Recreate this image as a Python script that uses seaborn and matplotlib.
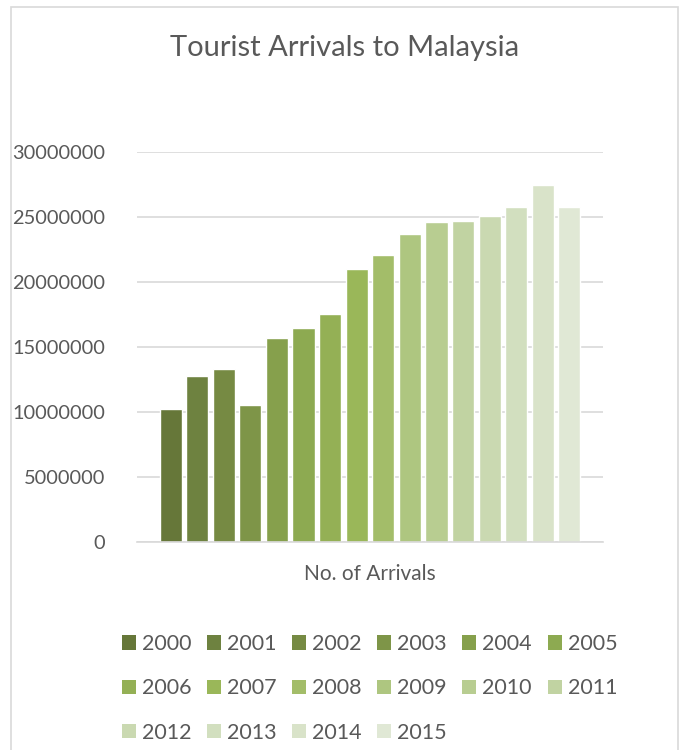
import matplotlib
matplotlib.use("Agg")
import matplotlib.pyplot as plt
import matplotlib.patches as mpatches
import seaborn as sns
import pandas as pd

years = ["2000", "2001", "2002", "2003", "2004", "2005", "2006", "2007",
         "2008", "2009", "2010", "2011", "2012", "2013", "2014", "2015"]
arrivals = [10220000, 12780000, 13290000, 10580000, 15700000, 16430000,
            17550000, 20970000, 22050000, 23650000, 24580000, 24710000,
            25030000, 25720000, 27440000, 25720000]
colors = ["#667739", "#6E8240", "#768A43", "#7E9548", "#86A04C", "#8DAA51",
          "#94B055", "#9AB759", "#A3BD69", "#AEC680", "#B8CD91", "#C1D3A2",
          "#CAD9B1", "#D2DFBF", "#D9E3C9", "#E0E8D5"]
category = "No. of Arrivals"
title = "Tourist Arrivals to Malaysia"
yticks = [0, 5000000, 10000000, 15000000, 20000000, 25000000, 30000000]

df = pd.DataFrame({"cat": [category] * len(years), "year": years, "value": arrivals})

sns.set_theme(style="white")
plt.rcParams["font.family"] = ["Lato", "DejaVu Sans"]
txt = "#595959"
grid = "#D9D9D9"

fig = plt.figure(figsize=(6.79, 7.5), dpi=100)
W, H = 679, 750
ax = fig.add_axes([137 / W, 1 - 542.3 / H, (603 - 137) / W, (542.3 - 151.7) / H])

sns.barplot(data=df, x="cat", y="value", hue="year", palette=colors,
            hue_order=years, width=0.913, gap=0.17, legend=False, ax=ax,
            saturation=1)

ax.set_ylim(0, 30000000)
ax.set_xlim(-0.5, 0.5)
ax.set_yticks(yticks)
ax.set_yticklabels([str(v) for v in yticks], color=txt, fontsize=14.4)
ax.set_xticks([])
ax.tick_params(axis="y", length=0, pad=23)
ax.yaxis.grid(True, color=grid, linewidth=1.2)
ax.set_axisbelow(True)
for s in ["top", "right", "left"]:
    ax.spines[s].set_visible(False)
ax.spines["bottom"].set_color(grid)
ax.spines["bottom"].set_linewidth(1.2)
ax.set_ylabel("")
ax.set_xlabel("")

fig.text(370 / W, 1 - 574 / H, category, ha="center", va="center",
         color=txt, fontsize=15)
fig.text(345 / W, 1 - 48 / H, title, ha="center", va="center",
         color=txt, fontsize=21)

# legend (row-major order)
handles = [mpatches.Patch(facecolor=c, edgecolor="none") for c in colors]
order = [0, 6, 12, 1, 7, 13, 2, 8, 14, 3, 9, 15, 4, 10, 5, 11]
leg = fig.legend([handles[i] for i in order], [years[i] for i in order],
                 ncol=6, loc="upper left", bbox_to_anchor=(122 / W, 1 - 634 / H),
                 frameon=False, fontsize=15.5, handlelength=0.65, handleheight=0.65,
                 handletextpad=0.28, columnspacing=0.72, labelspacing=1.13,
                 borderpad=0, borderaxespad=0)
for t in leg.get_texts():
    t.set_color(txt)

# chart border
fig.patches.append(mpatches.Rectangle((11 / W, -0.01), (678 - 11) / W, (H - 7) / H + 0.01,
                                      transform=fig.transFigure, fill=False,
                                      edgecolor=grid, linewidth=1.2))

fig.savefig("out.png", dpi=100, facecolor="white")
